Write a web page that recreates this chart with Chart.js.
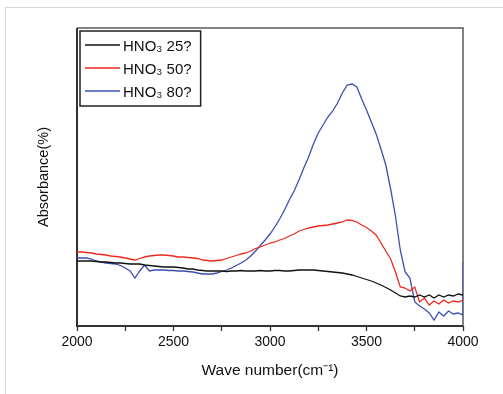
<!DOCTYPE html>
<html><head><meta charset="utf-8">
<script src="https://cdn.jsdelivr.net/npm/chart.js@4.4.0/dist/chart.umd.min.js"></script>
<style>
html,body{margin:0;padding:0;background:#fff;overflow:hidden}
#wrap{position:relative;width:503px;height:394px}
#c{position:absolute;left:0;top:0}
#frame{position:absolute;left:5px;top:7px;right:-2px;bottom:-2px;border-top:1px solid #d6d6d6;border-left:1px solid #d6d6d6;pointer-events:none}
</style></head>
<body><div id="wrap"><canvas id="c" width="503" height="394"></canvas><div id="frame"></div></div>
<script>
const wavenumbers = [2000,2025,2050,2075,2100,2125,2150,2175,2200,2225,
  2250,2275,2300,2325,2350,2375,2400,2425,2450,2475,
  2500,2525,2550,2575,2600,2625,2650,2675,2700,2725,
  2750,2775,2800,2825,2850,2875,2900,2925,2950,2975,
  3000,3025,3050,3075,3100,3125,3150,3175,3200,3225,
  3250,3275,3300,3325,3350,3375,3400,3425,3450,3475,
  3500,3525,3550,3575,3600,3625,3650,3675,3700,3725,
  3750,3775,3800,3825,3850,3875,3900,3925,3950,3975,4000];

const hno3_25 = [65,65,65,65,64.5,64,64,63.5,63,63,
  62.5,62,62,62,61,60.5,60,59.5,59,59,
  59,58.5,58,57,57,56,55.5,55,55,55,
  55,54.5,55,55,55.5,55,55,55,55.5,55,
  55,55.5,55.5,55,55,55.5,56,56,56,56,
  55.5,55,54.5,54,53.5,53,52,51,49.5,48,
  46.5,45,43,41,38.5,36,33,30,29,30,
  29,31,29,31,28,31,29,31,30,32,31];

const hno3_50 = [74,74,73.5,73,72,71.5,71,70,69.5,69,
  68,67,66,67.5,69,70,70.5,71,71,70.5,
  70,69,69,68.5,68,67.5,66,65.5,65,65.5,
  66,67.5,69,70.5,72,73,75,77.5,79,81,
  83,84,86,87.5,90,92,95,96.5,98,99,
  100,100.5,101,102,103,104,106,105.5,104,101,
  98.5,95,91,83,75,67,54,39,38,35,
  39,24,28,21,25,22,26,23,25,24,26];

const hno3_80 = [68,68,68,67,65,64,63,62.5,62,60.5,
  58,55,48,55,61,55,56,56,56,55.5,
  55.5,55,55,54.5,54,53,52,52,52,53,
  54.5,56,58,60.5,63,66,70,75,80.5,86,
  92,99,107,116,126,135,146,158,169,182,
  193,201,209,215,223,233,241,242,239,227,
  216,204,192,177,161,137,110,76,54,48,
  24,20,17,13,6,14,10,15,12,13,11];
const hno3_80_edge = 64;

const seriesNames = ['HNO\u2083 25?', 'HNO\u2083 50?', 'HNO\u2083 80?'];
const seriesColors = ['#111111', '#ee2a1f', '#3b4fb3'];
const xTitle = 'Wave number(cm\u207B\u00B9)';
const yTitle = 'Absorbance(%)';

const FONT = '"Liberation Sans", Arial, Helvetica, sans-serif';
Chart.defaults.font.family = FONT;
Chart.defaults.color = '#111';

function pts(vals){ return wavenumbers.map((x,i)=>({x, y: vals[i]})); }
const blueData = pts(hno3_80); blueData.push({x: 4000, y: hno3_80_edge});

const framePlugin = {
  id: 'frame',
  beforeDatasetsDraw(chart){
    const {ctx, chartArea:a} = chart;
    ctx.save();
    ctx.strokeStyle = '#5a5a5a'; ctx.lineWidth = 1.5;
    ctx.beginPath(); ctx.moveTo(a.left, a.top); ctx.lineTo(a.right, a.top); ctx.lineTo(a.right, a.bottom); ctx.stroke();
    ctx.strokeStyle = '#333'; ctx.lineWidth = 2;
    ctx.beginPath(); ctx.moveTo(a.left, a.top); ctx.lineTo(a.left, a.bottom); ctx.lineTo(a.right, a.bottom); ctx.stroke();
    ctx.restore();
  }
};

const legendPlugin = {
  id: 'boxLegend',
  afterDraw(chart){
    const {ctx, chartArea:a} = chart;
    ctx.save();
    ctx.font = '15px ' + FONT;
    const x0 = a.left + 3, y0 = a.top + 3;
    const lineX1 = x0 + 5, lineX2 = x0 + 40, textX = x0 + 43;
    let maxW = 0;
    chart.data.datasets.forEach(ds => { maxW = Math.max(maxW, ctx.measureText(ds.label).width); });
    const w = textX + maxW + 9 - x0, h = 75;
    ctx.fillStyle = '#fff'; ctx.fillRect(x0, y0, w, h);
    ctx.strokeStyle = '#222'; ctx.lineWidth = 1.5; ctx.strokeRect(x0, y0, w, h);
    chart.data.datasets.forEach((ds, i) => {
      const cy = y0 + 14 + i * 23;
      ctx.strokeStyle = ds.borderColor; ctx.lineWidth = 1.5;
      ctx.beginPath(); ctx.moveTo(lineX1, cy); ctx.lineTo(lineX2, cy); ctx.stroke();
      ctx.fillStyle = '#111'; ctx.textBaseline = 'alphabetic'; ctx.textAlign = 'left';
      ctx.fillText(ds.label, textX, cy + 5.5);
    });
    ctx.restore();
  }
};

new Chart(document.getElementById('c'), {
  type: 'line',
  data: {
    datasets: [
      {label: seriesNames[0], data: pts(hno3_25), borderColor: seriesColors[0], borderWidth: 1.3, pointRadius: 0, fill: false, tension: 0},
      {label: seriesNames[1], data: pts(hno3_50), borderColor: seriesColors[1], borderWidth: 1.3, pointRadius: 0, fill: false, tension: 0},
      {label: seriesNames[2], data: blueData, borderColor: seriesColors[2], borderWidth: 1.3, pointRadius: 0, fill: false, tension: 0}
    ]
  },
  options: {
    responsive: false, animation: false, devicePixelRatio: 1,
    layout: {padding: {top: 28, right: 40, bottom: 0, left: 0}},
    plugins: {legend: {display: false}, tooltip: {enabled: false}},
    scales: {
      x: {
        type: 'linear', min: 2000, max: 4000,
        afterFit(s){ s.height = 68; },
        ticks: {stepSize: 250, autoSkip: false, maxRotation: 0, padding: 3, color: '#111', font: {size: 14},
          callback: v => (v % 500 === 0 ? String(v) : '')},
        grid: {display: true, drawOnChartArea: false, drawTicks: true, tickLength: 5, tickColor: '#333', tickWidth: 1.3},
        border: {display: false},
        title: {display: true, text: xTitle, color: '#111', font: {size: 15.5}, padding: {top: 0, bottom: 14}}
      },
      y: {
        min: 0, max: 298,
        afterFit(s){ s.width = 77; },
        ticks: {display: false},
        grid: {display: false},
        border: {display: false},
        title: {display: true, text: yTitle, color: '#111', font: {size: 14.5}, padding: {top: 35, bottom: 0}}
      }
    }
  },
  plugins: [framePlugin, legendPlugin]
});
</script>
</body></html>
